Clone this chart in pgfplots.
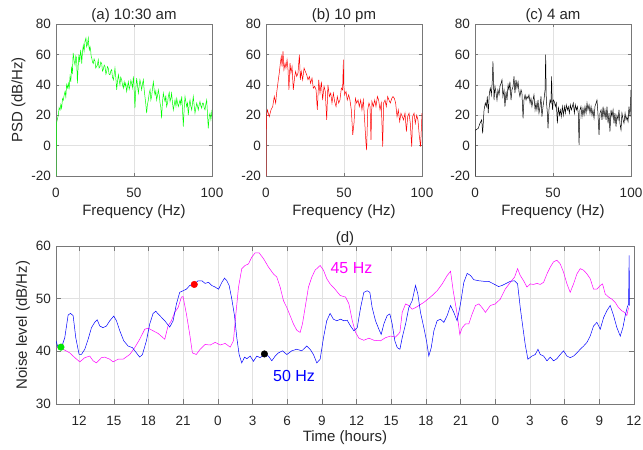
\documentclass[border=0pt]{standalone}
\usepackage{fontspec}
\setmainfont{Liberation Sans}
\usepackage{pgfplots}
\pgfplotsset{compat=1.18}
\definecolor{txt}{RGB}{38,38,38}
\definecolor{gridc}{RGB}{225,225,225}
\definecolor{axc}{RGB}{120,120,120}
\pgfplotsset{
  mystyle/.style={
    scale only axis,
    every axis title shift=0pt,
    axis line style={axc, line width=0.6pt},
    tick style={axc, line width=0.5pt},
    tick align=inside,
    tick pos=both,
    grid=major,
    major grid style={gridc, line width=0.5pt},
    ticklabel style={font=\fontsize{13.5}{16}\selectfont, text=txt},
    xticklabel style={yshift=-8.5pt},
    yticklabel style={xshift=-1.5pt},
    label style={font=\fontsize{15}{18}\selectfont, text=txt},
  },
  psd/.style={
    mystyle, width=156pt, height=152pt, major tick length=3pt,
    xmin=0, xmax=100, ymin=-20, ymax=80,
    xtick={0,50,100}, xticklabels={0,50,100},
    ytick={-20,0,20,40,60,80}, yticklabels={-20,0,20,40,60,80},
    xlabel={Frequency (Hz)},
    xlabel style={at={([yshift=-36pt]axis description cs:0.5,0)}, anchor=center},
    title style={font=\fontsize{15}{18}\selectfont, text=txt, at={([yshift=8pt]axis description cs:0.5,1)}, anchor=center},
  }
}
\begin{document}
\begin{tikzpicture}
\path[use as bounding box] (0,0) rectangle (643pt,450pt);
% (a)
\begin{axis}[psd, at={(56pt,274pt)}, anchor=south west, title={(a) 10:30 am},
  ylabel={PSD (dB/Hz)},
  ylabel style={at={([xshift=-37.5pt]axis description cs:0,0.5)}, anchor=center}]
\addplot[color={rgb,255:red,0;green,255;blue,0}, line width=0.5pt] coordinates {
(0,-20)(0.3,14.7)(0.8,17)(1.5,20)(2,25)(2.6,23.5)(3.1,27)(3.6,24.6)(4.2,31)(4.7,30)(5.2,33)(5.8,35.6)(6.3,32)(6.8,40)(7.3,38)(7.9,41)(8.4,37)(9,45.5)(9.5,42)(10,52)
(10.5,47)(11,61)(11.6,56)(12.2,53)(12.7,59)(13.2,57.6)(13.7,41)(14.2,52)(14.7,60)(15.2,55)(15.8,63)(16.2,59)(16.5,54)(17,62)(17.5,66)(18,62)(18.6,68.6)(19.2,70.8)(19.6,65)(20.1,66.4)
(20.7,70.8)(21,66)(21.4,63)(21.8,65)(22.2,63)(22.5,59)(22.9,57.6)(23.4,55)(23.9,54)(24.4,57)(25,55.4)(25.5,51)(26,52)(26.5,53)(27.1,56.5)(27.6,51)(28.2,52)(28.7,55)(29.3,54)(29.8,49)
(30.3,50)(30.9,53)(31.4,52)(32,47)(32.5,48.8)(33,52)(33.5,51)(34,47)(34.6,46.6)(35.1,49)(35.7,50)(36.2,45)(36.8,43.3)(37.3,47)(37.8,51)(38.4,44)(38.9,36.7)(39.4,42)(40,46.6)(40.5,43)
(41,40)(41.5,45)(42.1,43.3)(42.6,40)(43.2,37.8)(43.7,42)(44.2,39)(44.7,41)(45.3,35.6)(45.8,39)(46.4,42)(46.9,37)(47.4,39)(48,43)(48.5,41)(49,38)(49.6,45.5)(50.1,37)(50.6,24.6)(51.2,38)
(51.7,44.4)(52.2,40)(52.8,34.5)(53.3,39)(53.8,43.3)(54.4,40)(54.9,36.7)(55.5,41)(56,43.3)(56.5,37)(57,32.3)(57.5,28)(58.1,21.3)(58.6,27)(59.2,30)(59.7,34)(60.3,36.7)(60.8,30)(61.3,32.3)(61.9,38)
(62.4,42)(63,36)(63.5,33.4)(64,36)(64.5,30)(65.1,33)(65.6,36.7)(66.2,33)(66.7,28)(67.2,25)(67.7,18)(68.2,28)(68.8,34.5)(69.4,31)(69.9,29)(70.4,33)(70.9,25.7)(71.5,28)(72,32.3)(72.6,35)
(73.1,29)(73.6,31)(74.1,34.5)(74.7,28)(75.2,23.5)(75.8,27)(76.3,30)(76.9,26)(77.4,31)(77.9,28)(78.4,25.7)(79,28)(79.5,30)(80,27)(80.6,32.3)(81.1,24)(81.6,12.5)(82.2,25)(82.7,32.3)(83.2,29)
(83.8,25.7)(84.3,28)(84.8,20)(85.4,27)(85.9,30)(86.4,26)(87,23.5)(87.5,28)(88,32.3)(88.6,26)(89.1,21.3)(89.7,25)(90.2,28)(90.7,26)(91.2,23.5)(91.8,27)(92.3,29)(92.9,26)(93.4,24.6)(93.9,28)
(94.4,28)(95,25)(95.5,23.5)(96,27)(96.6,30)(97.1,21)(97.6,11.4)(98.2,19)(98.7,21.3)(99.3,17)(100,23.5)};
\end{axis}
% (b)
\begin{axis}[psd, at={(266pt,274pt)}, anchor=south west, title={(b) 10 pm}]
\addplot[color={rgb,255:red,255;green,0;blue,0}, line width=0.5pt] coordinates {
(0,-20)(0.2,19)(0.9,23.5)(2.1,19)(3.2,23.5)(4.3,25.7)(5.3,32.3)(6.2,28)(6.8,34.5)(7.9,43.3)
(8.5,47.7)(9.2,54.3)(9.8,58.7)(10.3,52)(10.9,62)(11.5,50)(12.2,54.3)(12.8,51)(13.5,56.5)(14.1,50)
(14.7,36.7)(15.4,54.3)(16,47.7)(16.7,52)(17.5,36.7)(18.4,45.5)(19,48.8)(19.7,45.5)(20.5,47.7)(21.4,59.8)
(22,43.3)(22.6,48.8)(23.5,43.3)(24.4,51)(25.2,48.8)(26.1,46.6)(26.9,43.3)(27.8,45.5)(28.6,41)(29.5,44.4)
(30.3,37.8)(31.2,39)(32.1,36.7)(32.9,23.5)(33.8,43.3)(34.6,34.5)(35.5,42)(36.3,30)(37.2,39)(38,35.6)
(38.9,16.9)(39.7,40)(40.6,32.3)(41.5,34.5)(42.3,28)(43.2,34.5)(44,29)(44.9,25.7)(45.7,32.3)(46.6,28)
(47.4,30)(48.3,37.8)(49.1,36.7)(49.6,56.5)(49.8,40)(50.4,33.4)(51.3,35.6)(52.1,30)(53,33.4)(53.8,30)
(54.7,23.5)(55.6,7)(56.4,14.7)(57.3,31)(58.1,28)(59,30)(59.8,25.7)(60.7,30)(61.5,23.5)(62.4,30)
(63.2,16.9)(64.1,1.5)(64.5,-2.9)(65.2,23.5)(66,28)(66.7,25.7)(67.3,3.7)(67.9,29)(68.8,25.7)(69.7,30)
(70.5,25.7)(71.4,32.3)(72.2,30)(73.1,23.5)(73.9,28)(74.8,-0.7)(75.4,28)(76.3,30)(77.1,25.7)(78,32.3)
(78.8,30)(79.7,28)(80.6,31)(81.4,32.3)(82.3,31)(83.1,28)(84,19)(84.8,23.5)(85.7,15.8)(86.5,21.3)
(87.4,19)(88.2,16.9)(89.1,21.3)(90,9.2)(90.8,19)(91.7,21.3)(92.5,14.7)(93.4,-0.7)(94,19)(94.9,21.3)
(95.7,14.7)(96.6,20)(97.4,16.9)(98.3,6)(99.1,-0.7)(100,21.3)};
\end{axis}
% (c)
\begin{axis}[psd, at={(475pt,274pt)}, anchor=south west, title={(c) 4 am}]
\addplot[black, line width=0.5pt] coordinates {
(0,-20)(0.1,10.3)(0.6,10.3)(2.1,11.4)(3.2,14.7)(4.3,17)(4.9,8)(5.8,23.5)(6.6,28)(7.3,25.7)
(7.9,32.3)(8.5,21.3)(9.2,34.5)(9.8,37.8)(10.5,33.4)(11.1,43.3)(11.5,55.4)(12.2,30)(12.8,39)(13.5,34.5)
(14.1,30)(14.7,36.7)(15.4,33.4)(16,39)(16.7,41)(17.3,43.3)(17.9,32.3)(18.6,36.7)(19.2,25.7)(19.9,35.6)
(20.5,30)(21.2,40)(21.8,36.7)(22.4,42)(23.1,30)(23.7,36.7)(24.4,39)(25,45.5)(25.6,34.5)(26.3,43.3)
(26.9,37.8)(27.6,42)(28.2,35.6)(28.8,32.3)(29.5,36.7)(30.1,34.5)(30.8,18)(31.4,30)(32.1,33.4)(32.7,30)
(33.3,32.3)(34,31)(34.6,33.4)(35.3,28)(35.9,31)(36.5,25.7)(37.2,30)(37.8,33.4)(38.5,23.5)(39.1,28)
(39.7,23.5)(40.4,30)(41,21.3)(41.7,25.7)(42.3,32.3)(42.9,19)(43.6,25.7)(44.2,30)(44.9,36.7)(45.3,59.8)
(45.7,30)(46.4,21.3)(46.8,11.4)(47.4,23.5)(48.1,30)(48.7,28)(49.1,45.5)(49.6,23.5)(50.2,30)(50.9,28.9)
(51.5,25.7)(52.1,28)(52.8,14.7)(53.4,25.7)(54.1,20)(54.7,23.5)(55.3,19)(56,25.7)(56.6,20)(57.3,25.7)
(57.9,21.3)(58.5,26.8)(59.2,23.5)(59.8,25.7)(60.5,21.3)(61.1,26.8)(61.8,23.5)(62.4,25.7)(63,28)(63.7,21.3)
(64.3,26.8)(65,23.5)(65.6,25.7)(66.2,21.3)(66.7,0.4)(67.3,23.5)(67.9,25.7)(68.6,19)(69.2,24.6)(69.9,20)
(70.5,25.7)(71.2,21.3)(71.8,28)(72.4,23.5)(73.1,26.8)(73.7,21.3)(74.4,25.7)(75,20)(75.6,23.5)(76.3,18)
(76.9,25.7)(77.6,28)(78.2,30)(78.8,21.3)(79.5,7)(80.1,21.3)(80.8,23.5)(81.4,17)(82.1,25.7)(82.7,19)
(83.3,23.5)(84,17)(84.6,25.7)(85.3,14.7)(85.9,21.3)(86.5,9.2)(87.2,23.5)(87.8,19)(88.5,23.5)(89.1,14.7)
(89.7,21.3)(90.4,12.5)(91,20)(91.7,17)(92.3,23.5)(92.9,14.7)(93.6,10.3)(94.2,21.3)(94.9,17)(95.5,14.7)
(96.2,21.3)(96.8,17)(97.4,19)(98.1,15.8)(98.7,25.7)(99.4,19)(100,36.7)};
\end{axis}
% (d)
\begin{axis}[mystyle, at={(56pt,46pt)}, anchor=south west, width=578pt, height=158pt,
  major tick length=5pt,
  xmin=10, xmax=60, ymin=30, ymax=60,
  xtick={12,15,18,21,24,27,30,33,36,39,42,45,48,51,54,57,60},
  xticklabels={12,15,18,21,0,3,6,9,12,15,18,21,0,3,6,9,12},
  ytick={30,40,50,60}, yticklabels={30,40,50,60},
  title={(d)},
  title style={font=\fontsize{15}{18}\selectfont, text=txt, at={([yshift=7pt]axis description cs:0.5,1)}, anchor=center},
  xlabel={Time (hours)},
  xlabel style={at={([yshift=-34pt]axis description cs:0.5,0)}, anchor=center},
  ylabel={Noise level (dB/Hz)},
  ylabel style={at={([xshift=-33pt]axis description cs:0,0.5)}, anchor=center}]
\addplot[color={rgb,255:red,255;green,0;blue,255}, line width=0.5pt] coordinates {
(10.0,40.7)(10.62,40.4)(11.19,39.7)(11.63,38.8)(12.06,38.0)(12.49,38.8)(12.92,39.1)(13.21,38.2)(13.5,37.8)(13.93,38.8)
(14.22,38.9)(14.65,38.5)(14.94,38.0)(15.37,38.5)(15.8,38.5)(16.38,39.4)(16.81,40.7)(17.24,42.3)(17.68,44.2)(17.97,44.4)
(18.4,43.9)(18.83,43.4)(19.41,42.3)(19.69,44.8)(19.98,45.8)(20.27,47.4)(20.56,48.3)(20.85,50.3)(20.99,50.4)(21.28,47.1)
(21.57,43.2)(21.8,39.7)(22.14,39.4)(22.47,40.4)(22.9,41.3)(23.34,41.2)(23.77,41.7)(24.2,41.2)(24.63,41.5)(25.07,40.8)
(25.35,42.0)(25.56,47.1)(25.79,52.2)(26.07,55.7)(26.36,56.3)(26.65,56.6)(26.94,57.9)(27.23,58.7)(27.57,58.7)(27.95,57.6)
(28.38,56.0)(28.81,54.7)(29.1,54.1)(29.39,52.2)(29.68,49.6)(29.97,48.3)(30.25,46.8)(30.54,45.2)(30.83,44.0)(31.12,43.6)
(31.32,45.2)(31.55,48.3)(31.84,52.2)(32.13,54.1)(32.41,55.4)(32.85,56.3)(33.14,55.4)(33.42,53.8)(33.71,52.8)(34.14,51.8)
(34.58,50.6)(35.05,50.3)(35.34,49.0)(35.63,45.8)(35.91,43.6)(36.2,42.5)(36.63,42.1)(37.07,42.5)(37.5,42.1)(38.07,42.0)
(38.51,42.6)(38.94,42.9)(39.37,42.7)(39.75,43.6)(39.95,47.4)(40.24,49.0)(40.52,48.7)(40.81,48.0)(41.1,48.3)(41.39,48.7)
(41.82,49.3)(42.17,49.9)(42.54,50.6)(42.97,51.5)(43.41,52.8)(43.84,54.4)(44.13,55.2)(44.36,51.5)(44.7,47.1)(44.93,43.2)
(45.14,44.5)(45.42,45.2)(45.71,45.2)(46.0,47.1)(46.29,48.7)(46.58,49.0)(46.86,48.3)(47.15,47.4)(47.57,48.7)(48.0,49.0)
(48.43,49.9)(48.86,51.8)(49.3,53.1)(49.67,54.1)(49.93,55.7)(50.16,54.4)(50.45,53.4)(50.74,52.2)(51.03,52.8)(51.31,52.7)
(51.6,52.9)(51.89,52.7)(52.18,53.1)(52.47,54.7)(52.76,56.0)(53.04,57.0)(53.33,57.3)(53.62,56.6)(53.91,55.0)(54.2,52.8)
(54.48,51.2)(54.77,52.8)(55.06,54.7)(55.35,55.7)(55.64,55.4)(55.93,54.7)(56.21,53.8)(56.5,51.8)(56.79,51.8)(57.08,52.5)
(57.28,52.8)(57.51,50.9)(57.8,50.3)(58.09,49.9)(58.37,49.3)(58.66,48.3)(58.95,47.7)(59.18,47.4)(59.38,46.8)(59.53,48.3)};
\addplot[color={rgb,255:red,0;green,0;blue,255}, line width=0.5pt] coordinates {
(10.0,42.0)(10.18,40.7)(10.47,40.7)(10.76,42.6)(11.05,46.9)(11.25,47.2)(11.48,46.8)(11.71,42.6)(12.0,39.4)(12.2,39.4)
(12.49,40.4)(12.78,42.3)(13.07,44.5)(13.35,45.5)(13.56,46.0)(13.79,44.8)(14.07,44.5)(14.36,44.8)(14.65,45.8)(15.0,46.7)
(15.23,45.8)(15.52,43.9)(15.86,42.0)(16.24,41.0)(16.61,40.7)(16.96,39.7)(17.24,38.9)(17.48,39.4)(17.82,42.0)(18.11,45.2)
(18.4,47.2)(18.63,47.6)(18.97,46.8)(19.41,45.8)(19.84,44.6)(20.13,45.8)(20.42,49.0)(20.7,51.2)(20.99,51.5)(21.28,51.8)
(21.57,52.5)(21.94,52.7)(22.29,53.4)(22.62,53.4)(22.9,52.9)(23.19,53.1)(23.48,52.5)(23.77,52.2)(24.06,51.8)(24.35,53.1)
(24.58,53.9)(24.78,53.4)(24.98,52.5)(25.21,49.9)(25.44,46.8)(25.64,42.6)(25.84,39.4)(26.07,37.8)(26.31,38.9)(26.51,38.6)
(26.8,39.1)(27.08,38.1)(27.37,39.1)(27.66,38.8)(28.03,39.4)(28.38,39.1)(28.67,38.2)(28.96,39.1)(29.24,39.7)(29.59,40.1)
(29.97,39.4)(30.4,40.1)(30.83,40.4)(31.26,40.1)(31.69,41.0)(31.98,40.4)(32.27,39.4)(32.56,37.8)(32.85,38.5)(33.14,42.6)
(33.42,45.8)(33.71,47.2)(34.0,46.1)(34.29,45.8)(34.62,46.1)(34.9,45.8)(35.19,45.9)(35.48,44.8)(35.77,43.9)(36.06,44.5)
(36.35,48.3)(36.63,51.2)(36.92,51.5)(37.15,51.2)(37.35,48.3)(37.64,45.8)(37.93,44.2)(38.13,43.2)(38.36,45.2)(38.65,46.8)
(38.88,47.1)(39.08,45.2)(39.31,42.0)(39.52,40.7)(39.75,40.4)(39.95,42.6)(40.24,45.2)(40.52,48.3)(40.81,49.6)(41.1,52.5)
(41.3,50.9)(41.53,47.4)(41.82,44.5)(42.05,42.0)(42.25,39.1)(42.46,40.7)(42.69,43.9)(42.97,45.8)(43.26,46.1)(43.55,45.5)
(43.84,46.8)(44.13,48.7)(44.41,47.4)(44.7,45.8)(44.99,49.0)(45.28,53.1)(45.57,54.8)(45.86,54.4)(46.14,53.6)(46.58,53.4)
(47.01,53.3)(47.42,53.3)(47.86,52.8)(48.29,52.3)(48.58,52.5)(48.86,52.8)(49.3,53.3)(49.67,53.4)(49.93,52.8)(50.16,48.3)
(50.39,44.5)(50.59,41.3)(50.82,38.5)(51.17,39.1)(51.46,39.4)(51.69,40.4)(51.89,39.4)(52.18,39.1)(52.47,38.2)(52.76,38.9)
(53.04,38.2)(53.33,38.6)(53.62,39.4)(53.91,40.1)(54.2,39.1)(54.48,38.8)(54.77,39.1)(55.06,39.7)(55.35,40.4)(55.64,41.0)
(55.93,41.7)(56.21,42.9)(56.5,44.8)(56.79,45.5)(57.08,44.2)(57.37,46.4)(57.65,47.7)(57.94,48.7)(58.23,46.8)(58.52,44.5)
(58.81,42.9)(59.04,44.5)(59.24,46.8)(59.41,48.3)(59.53,49.0)(59.58,58.2)(59.61,48.7)};
\addplot[only marks, mark=*, mark size=3.3pt, color={rgb,255:red,0;green,230;blue,0}] coordinates {(10.43,40.8)};
\addplot[only marks, mark=*, mark size=3.3pt, color={rgb,255:red,255;green,0;blue,0}] coordinates {(21.96,52.7)};
\addplot[only marks, mark=*, mark size=3.3pt, black] coordinates {(28.03,39.5)};
\node[font=\fontsize{16}{19}\selectfont, text={rgb,255:red,255;green,0;blue,255}] at (axis cs:35.56,55.8) {45 Hz};
\node[font=\fontsize{16}{19}\selectfont, text={rgb,255:red,0;green,0;blue,255}] at (axis cs:30.59,35.4) {50 Hz};
\end{axis}
\end{tikzpicture}
\end{document}
